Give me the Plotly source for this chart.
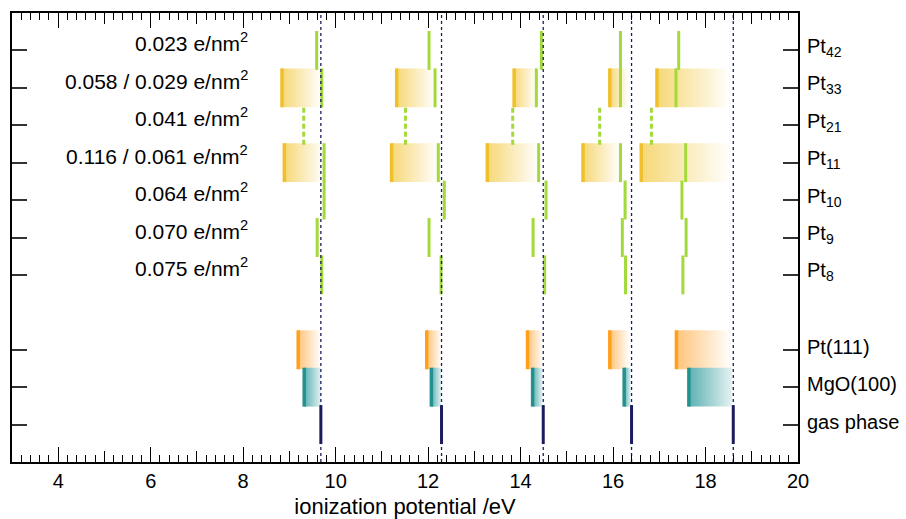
import plotly.graph_objects as go

# ---------------- data ----------------
row_labels = ["gas phase", "MgO(100)", "Pt(111)", "Pt<sub>8</sub>", "Pt<sub>9</sub>",
              "Pt<sub>10</sub>", "Pt<sub>11</sub>", "Pt<sub>21</sub>", "Pt<sub>33</sub>", "Pt<sub>42</sub>"]
row_pos = [1, 2, 3, 5, 6, 7, 8, 9, 10, 11]

gas_phase = [9.68, 12.29, 14.49, 16.40, 18.60]

mgo_x0 = [9.32, 12.07, 14.26, 16.24, 17.64]
mgo_x1 = [9.68, 12.28, 14.47, 16.38, 18.57]

pt111_x0 = [9.19, 11.97, 14.15, 15.93, 17.37]
pt111_x1 = [9.68, 12.29, 14.49, 16.36, 18.56]

pt8 = [9.70, 12.28, 14.52, 16.27, 17.51]
pt9 = [9.60, 12.02, 14.27, 16.20, 17.58]
pt10 = [9.75, 12.35, 14.55, 16.26, 17.49]
pt11 = [9.75, 12.22, 14.39, 16.16, 17.57]
pt11_x0 = [8.89, 11.21, 13.28, 15.35, 16.61]
pt11_x1 = [9.75, 12.22, 14.39, 16.16, 18.55]
pt21 = [9.31, 11.51, 13.83, 15.71, 16.83]
pt33 = [9.70, 12.15, 14.34, 16.16, 17.36]
pt33_x0 = [8.84, 11.32, 13.86, 15.93, 16.95]
pt33_x1 = [9.70, 12.15, 14.34, 16.33, 18.55]
pt42 = [9.59, 12.02, 14.45, 16.16, 17.42]

coverage_rows = [11, 10, 9, 8, 7, 6, 5]
coverage_text = ["0.023 e/nm<sup>2</sup>", "0.058 / 0.029 e/nm<sup>2</sup>", "0.041 e/nm<sup>2</sup>",
                 "0.116 / 0.061 e/nm<sup>2</sup>", "0.064 e/nm<sup>2</sup>", "0.070 e/nm<sup>2</sup>",
                 "0.075 e/nm<sup>2</sup>"]

# ---------------- style ----------------
FONT = "Liberation Sans, Arial, Helvetica, sans-serif"
GREEN = "#a3d93a"
NAVY = "#1b1b5e"
HALF = 0.52

fig = go.Figure()


def add_boxes(x0s, x1s, row, c_start, c_end, stripe):
    for a, b in zip(x0s, x1s):
        fig.add_trace(go.Scatter(
            x=[a, b, b, a, a], y=[row - HALF, row - HALF, row + HALF, row + HALF, row - HALF],
            mode="lines", line=dict(width=0), fill="toself",
            fillgradient=dict(type="horizontal", colorscale=[[0, c_start], [1, c_end]]),
            hoverinfo="skip", showlegend=False))
    xs, ys = [], []
    for a in x0s:
        xs += [a, a, None]
        ys += [row - HALF, row + HALF, None]
    fig.add_trace(go.Scatter(x=xs, y=ys, mode="lines", line=dict(color=stripe, width=3.5),
                             hoverinfo="skip", showlegend=False))


def add_segments(vals, row, color, width=3, dash="solid"):
    xs, ys = [], []
    for v in vals:
        xs += [v, v, None]
        ys += [row - HALF, row + HALF, None]
    fig.add_trace(go.Scatter(x=xs, y=ys, mode="lines", line=dict(color=color, width=width, dash=dash),
                             hoverinfo="skip", showlegend=False))


# gradient boxes
add_boxes(pt33_x0, pt33_x1, 10, "#f6d877", "#ffffff", "#f0c02c")
add_boxes(pt11_x0, pt11_x1, 8, "#f6d877", "#ffffff", "#f0c02c")
add_boxes(pt111_x0, pt111_x1, 3, "#ffc47a", "#ffffff", "#ff9f1c")
add_boxes(mgo_x0, mgo_x1, 2, "#5cb1b1", "#e4f2f2", "#22918f")

# green cluster lines
add_segments(pt42, 11, GREEN)
add_segments(pt33, 10, GREEN)
add_segments(pt21, 9, GREEN, dash="5px,3px")
add_segments(pt11, 8, GREEN)
add_segments(pt10, 7, GREEN)
add_segments(pt9, 6, GREEN)
add_segments(pt8, 5, GREEN)

# gas phase reference: dashed through the whole plot + solid segments
xs, ys = [], []
for v in gas_phase:
    xs += [v, v, None]
    ys += [0, 12, None]
fig.add_trace(go.Scatter(x=xs, y=ys, mode="lines", line=dict(color=NAVY, width=1.3, dash="3px,3px"),
                         hoverinfo="skip", showlegend=False))
add_segments(gas_phase, 1, NAVY, width=3)

# invisible trace for the secondary (medium tick) axis
fig.add_trace(go.Scatter(x=[3, 20], y=[0, 0], xaxis="x2", mode="markers",
                         marker=dict(opacity=0), hoverinfo="skip", showlegend=False))

for r, t in zip(coverage_rows, coverage_text):
    fig.add_annotation(x=8.15, y=r, text=t, showarrow=False, xanchor="right", yanchor="middle",
                       yshift=8, font=dict(family=FONT, size=21, color="black"))

for r, t in zip(row_pos, row_labels):
    fig.add_annotation(xref="paper", x=1, y=r, text=t, showarrow=False, xanchor="left",
                       yanchor="middle", xshift=7, yshift=3,
                       font=dict(family=FONT, size=20, color="black"))

fig.update_layout(
    width=906, height=519,
    margin=dict(l=12, r=108, t=13, b=57, autoexpand=False),
    plot_bgcolor="white", paper_bgcolor="white",
    font=dict(family=FONT, size=20, color="black"),
    showlegend=False,
    xaxis=dict(range=[3, 20], dtick=2, tick0=0, ticks="inside", ticklen=15, tickwidth=1.3,
               tickcolor="black", mirror="ticks", showline=True, linecolor="black", linewidth=1.5,
               showgrid=False, zeroline=False, automargin=False,
               minor=dict(dtick=0.2, tick0=0, ticks="inside", ticklen=7, tickwidth=1,
                          tickcolor="black", showgrid=False),
               tickfont=dict(size=20),
               title=dict(text="ionization potential /eV", font=dict(size=22), standoff=15)),
    xaxis2=dict(range=[3, 20], overlaying="x", side="bottom", dtick=1, tick0=0, ticks="inside",
                ticklen=11, tickwidth=1.2, tickcolor="black", mirror="ticks", showticklabels=False,
                showgrid=False, zeroline=False, showline=False, automargin=False),
    yaxis=dict(range=[0, 12], tickvals=row_pos, side="right", showticklabels=False,
               ticks="inside", ticklen=15, tickwidth=1.5, tickcolor="#333", mirror="ticks",
               showline=True, linecolor="black", linewidth=1.5, showgrid=False, zeroline=False,
               automargin=False),
)

fig.write_html("out.html", config={"displayModeBar": False},
               post_script="document.body.style.margin='0';document.body.style.overflow='hidden';")
